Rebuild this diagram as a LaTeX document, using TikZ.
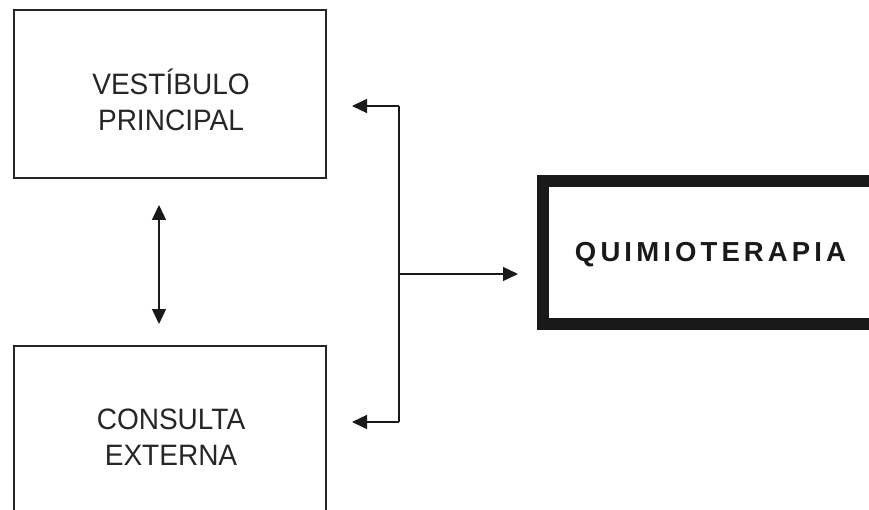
\documentclass[tikz,border=0pt]{standalone}
\usepackage{fontspec}
\setmainfont{Liberation Sans}
\newfontfamily\titlefont[LetterSpace=15]{Liberation Sans}
\usetikzlibrary{arrows.meta}
\begin{document}
\begin{tikzpicture}[x=1pt,y=-1pt,
  roombox/.style={draw=black!85,line width=1.5pt,minimum width=312pt,minimum height=168pt,inner sep=0pt},
  mainbox/.style={draw=black!90,line width=12pt,minimum width=335pt,minimum height=143pt,inner sep=0pt},
  roomlabel/.style={font=\fontsize{29.5}{36}\selectfont,align=center,text=black!85,xscale=0.95},
  link/.style={line width=1.4pt,draw=black!90,-{Triangle[length=15pt,width=14pt]}},
  biglink/.style={line width=1.4pt,draw=black!90,{Triangle[length=15pt,width=14pt]}-{Triangle[length=15pt,width=14pt]}}]
\useasboundingbox (0,0) rectangle (869,510);

% rooms
\node[roombox] (vest) at (170,94) {};
\node[roombox] (cons) at (170,430) {};
\node[roomlabel] (vestlbl) at (171,100) {VESTÍBULO\\PRINCIPAL};
\node[roomlabel] (conslbl) at (171,437) {CONSULTA\\EXTERNA};

% main unit
\node[mainbox] (quimio) at (710.5,252.5) {};
\node[font=\titlefont\bfseries\fontsize{27.5}{32}\selectfont,text=black!90] (quimiolbl) at (710.5,255) {QUIMIOTERAPIA};

% connectors
\coordinate (vtop) at (159,205);
\coordinate (vbot) at (159,324);
\draw[biglink] (vtop) -- (vbot);

\coordinate (btop) at (399,106);
\coordinate (bbot) at (399,422);
\coordinate (bmid) at (399,274);
\coordinate (tipA) at (352,106);
\coordinate (tipB) at (352,422);
\coordinate (tipC) at (518,274);
\draw[line width=1.4pt,draw=black!90] (btop) -- (bbot);
\draw[link] (btop) -- (tipA);
\draw[link] (bbot) -- (tipB);
\draw[link] (bmid) -- (tipC);
\end{tikzpicture}
\end{document}
